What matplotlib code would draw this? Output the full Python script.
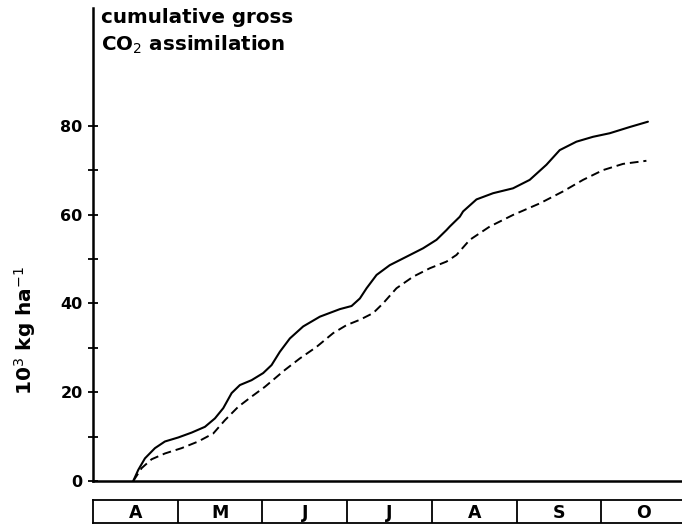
import matplotlib.pyplot as plt

# time axis in months counted from 1 April (0 = 1 Apr, 1 = 1 May, ...)
months = ["A", "M", "J", "J", "A", "S", "O"]

# cumulative gross CO2 assimilation, 10^3 kg/ha
solid_t = [0.475, 0.534, 0.613, 0.731, 0.849, 1.006, 1.164, 1.321, 1.439,
           1.537, 1.636, 1.733, 1.871, 2.008, 2.107, 2.205, 2.264, 2.323,
           2.480, 2.677, 2.913, 3.051, 3.149, 3.228, 3.346, 3.502, 3.699,
           3.895, 4.053, 4.171, 4.210, 4.328, 4.367, 4.525, 4.721, 4.956,
           5.153, 5.350, 5.507, 5.704, 5.900, 6.097, 6.333, 6.548]
solid_v = [0.0, 2.5, 5.1, 7.4, 8.9, 9.8, 10.9, 12.2, 14.1,
           16.4, 19.8, 21.6, 22.7, 24.3, 26.1, 29.1, 30.6, 32.1,
           34.8, 37.0, 38.7, 39.4, 41.1, 43.4, 46.4, 48.6, 50.5,
           52.4, 54.3, 56.5, 57.3, 59.5, 60.7, 63.4, 64.8, 65.9,
           67.8, 71.2, 74.5, 76.4, 77.5, 78.3, 79.7, 80.9]

dashed_t = [0.475, 0.574, 0.692, 0.849, 1.046, 1.242, 1.419, 1.557, 1.713,
            1.871, 2.028, 2.146, 2.264, 2.441, 2.638, 2.834, 2.992, 3.149,
            3.305, 3.423, 3.581, 3.777, 3.974, 4.171, 4.289, 4.446, 4.682,
            4.956, 5.271, 5.546, 5.782, 6.018, 6.254, 6.530]
dashed_v = [0.0, 2.9, 4.9, 6.2, 7.4, 8.9, 10.7, 13.7, 16.7,
            19.0, 21.2, 23.1, 25.0, 27.6, 30.2, 33.3, 35.1, 36.3,
            37.8, 40.0, 43.4, 46.0, 47.9, 49.4, 50.9, 54.3, 57.3,
            59.9, 62.5, 65.2, 67.8, 70.0, 71.4, 72.1]

major_ticks = [0, 20, 40, 60, 80]
minor_ticks = [10, 30, 50, 70]

plt.rcParams["font.family"] = "DejaVu Sans"

fig = plt.figure(figsize=(6.82, 5.26), dpi=100)
ax = fig.add_axes([93 / 682, 45 / 526, 1 - 93 / 682, 473 / 526])

ax.plot(solid_t, solid_v, color="k", lw=1.5, solid_joinstyle="round",
        solid_capstyle="round")
ax.plot(dashed_t, dashed_v, color="k", lw=1.4, dashes=(4.5, 2.5),
        dash_joinstyle="round")

ax.set_xlim(0, 6.95)
ax.set_ylim(0, 106.5)
for side in ["top", "right"]:
    ax.spines[side].set_visible(False)
for side in ["left", "bottom"]:
    ax.spines[side].set_linewidth(1.8)

ax.set_yticks(major_ticks)
ax.set_yticks(minor_ticks, minor=True)
ax.set_yticklabels([str(v) for v in major_ticks], fontsize=11.5,
                   fontweight="bold")
ax.tick_params(axis="y", which="both", direction="inout", length=7,
               width=1.3, pad=4)
ax.set_xticks(range(1, len(months)))
ax.set_xticklabels([])
ax.tick_params(axis="x", direction="inout", length=6, width=1.3)

fig.text(101 / 682, 1 - 8 / 526, "cumulative gross\nCO$_2$ assimilation",
         ha="left", va="top", fontsize=14.3, fontweight="bold",
         linespacing=1.4)
fig.text(25 / 682, 1 - 330 / 526, "10$^3$ kg ha$^{-1}$", rotation=90,
         ha="center", va="center", fontsize=14.5, fontweight="bold")

# month strip below the time axis
bx = fig.add_axes([93 / 682, 3 / 526, 1 - 93 / 682, 23 / 526], sharex=ax)
bx.set_ylim(0, 1)
bx.set_xticks([])
bx.set_yticks([])
bx.spines["right"].set_visible(False)
for side in ["top", "bottom", "left"]:
    bx.spines[side].set_linewidth(1.3)
for i, m in enumerate(months):
    if i > 0:
        bx.axvline(i, color="k", lw=1.3)
    bx.text(i + 0.5, 0.45, m, ha="center", va="center", fontsize=12.5,
            fontweight="bold")
bx.set_xlim(0, 6.95)

fig.savefig("out.png", dpi=100)
